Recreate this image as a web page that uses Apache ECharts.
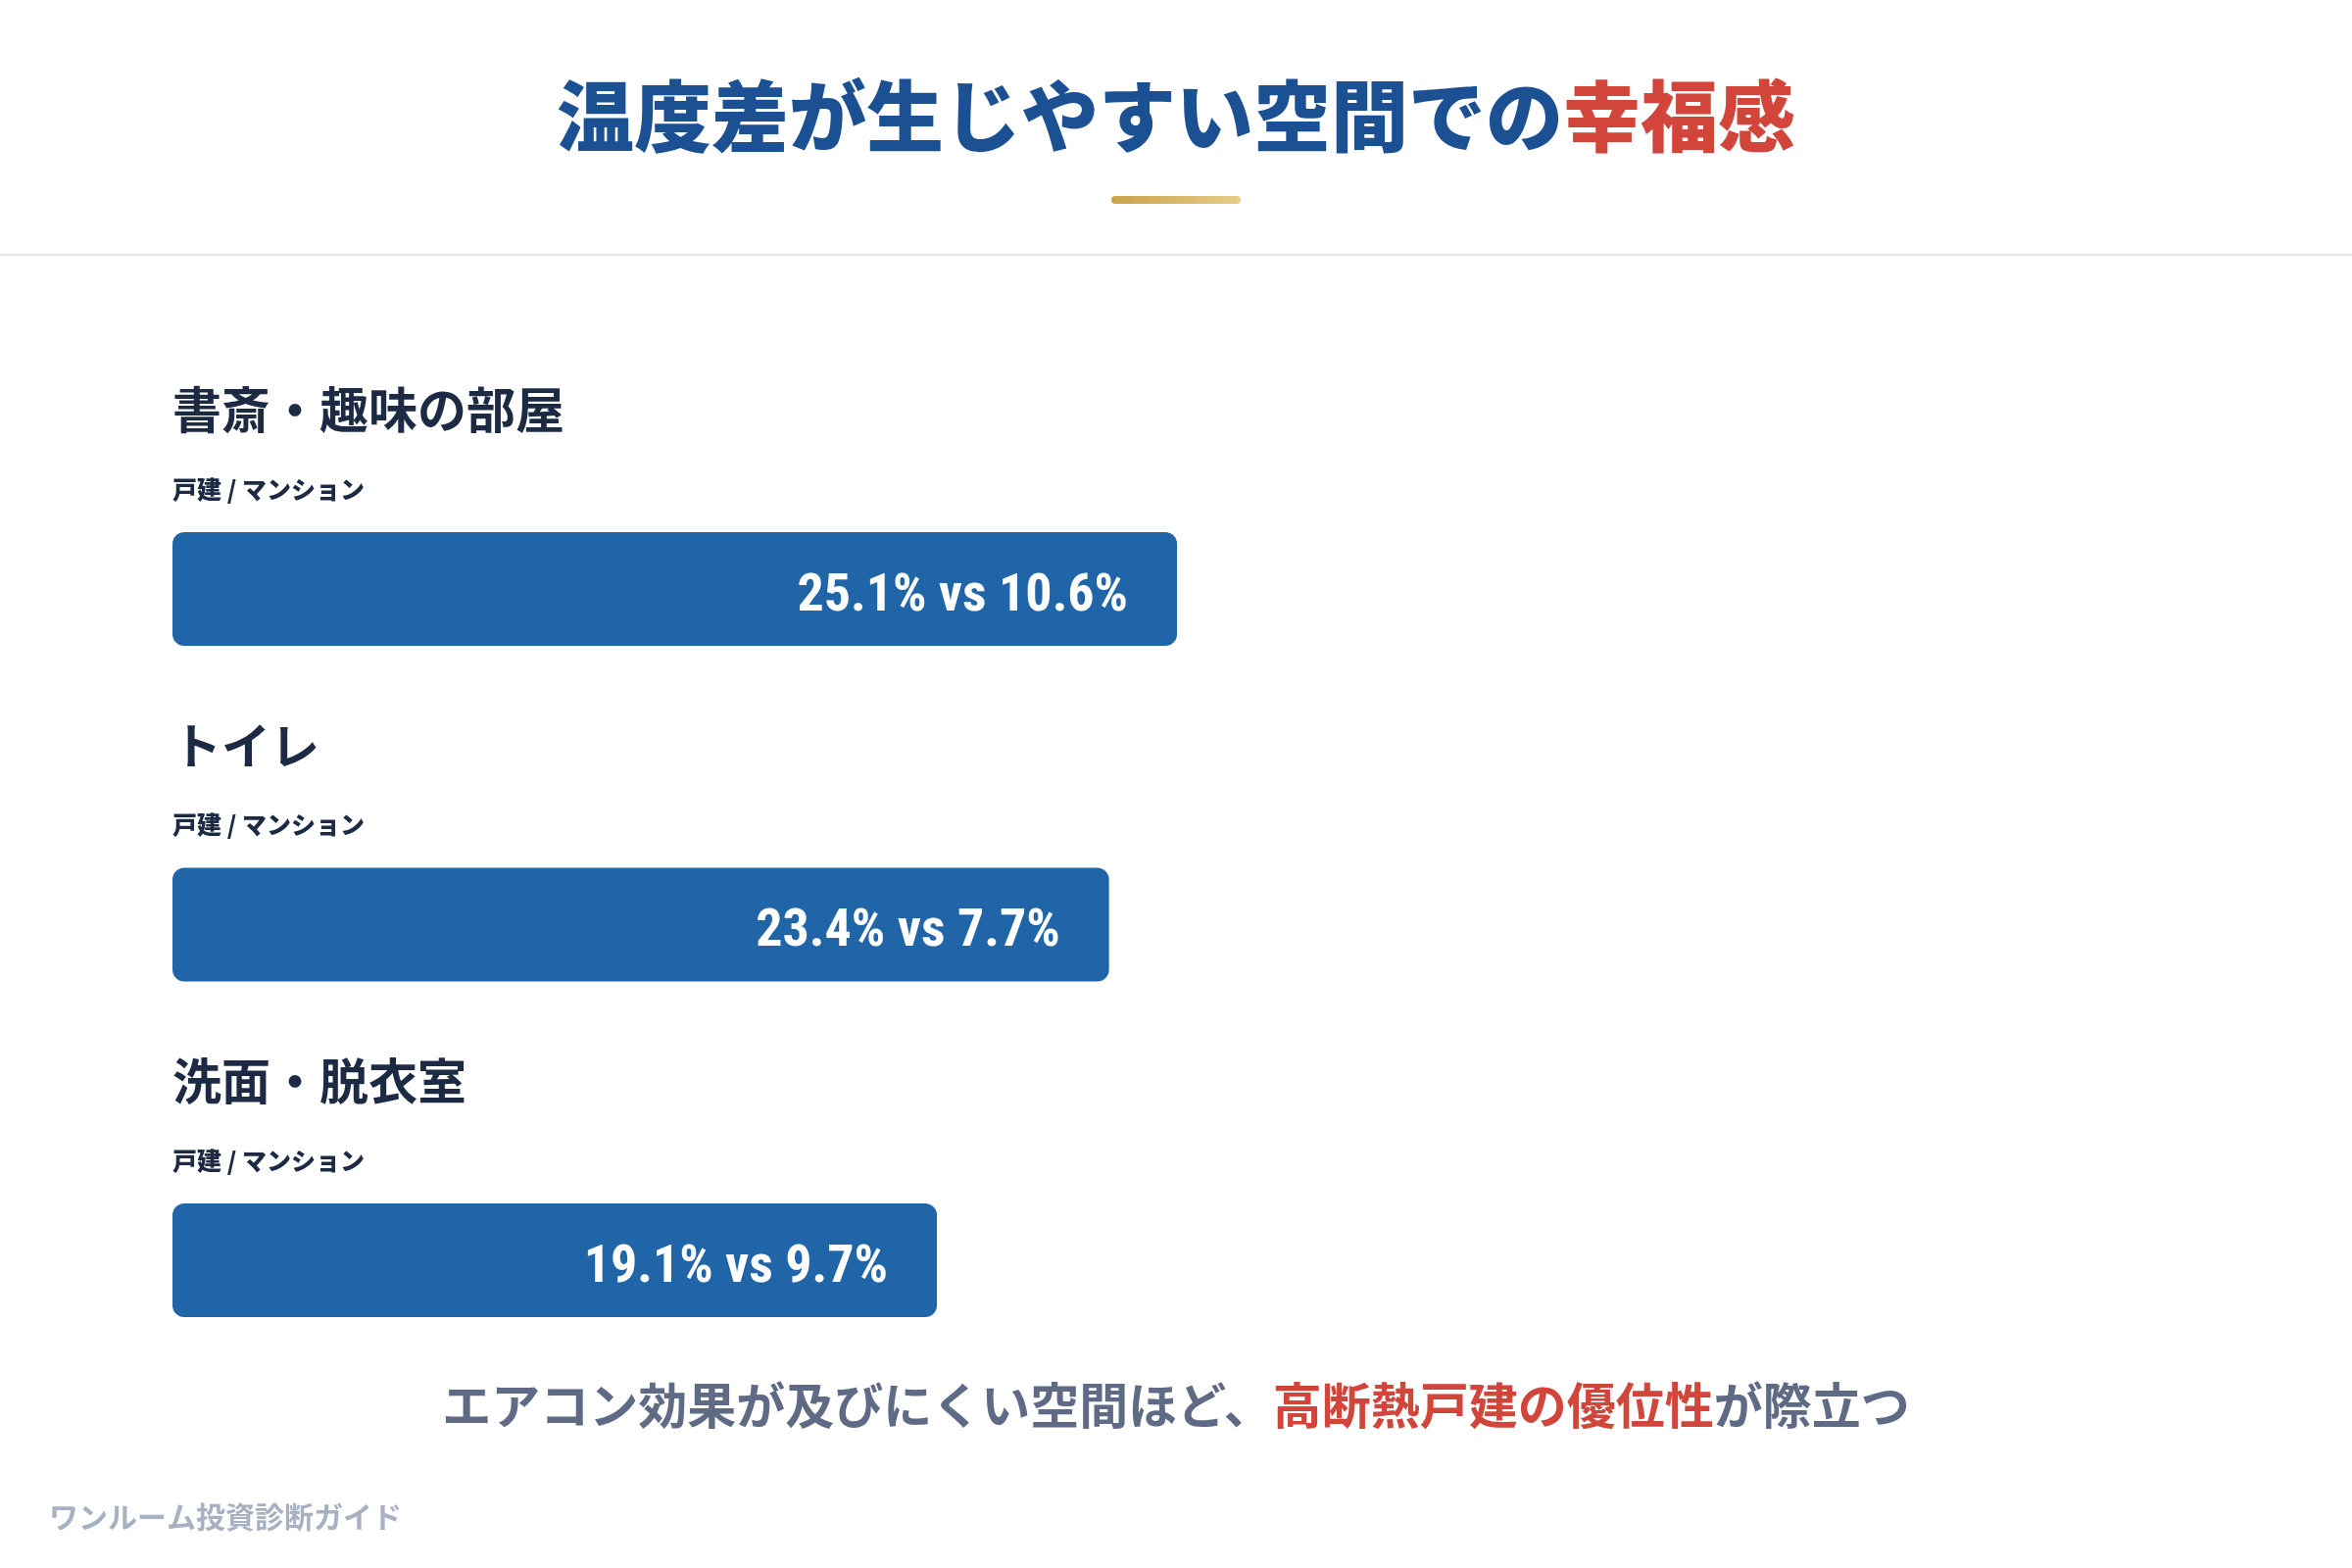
<!DOCTYPE html>
<html lang="ja">
<head>
<meta charset="utf-8">
<title>温度差が生じやすい空間での幸福感</title>
<script src="https://cdn.jsdelivr.net/npm/echarts@6/dist/echarts.min.js"></script>
<style>
    html, body { margin: 0; padding: 0; background: #ffffff; }
    #chart-espacios { width: 2400px; height: 1600px; }
</style>
</head>
<body>
<div id="chart-espacios"></div>
<script>
// datos
var categorias = ['書斎・趣味の部屋', 'トイレ', '洗面・脱衣室'];
var valoresKodate = [25.1, 23.4, 19.1];   // 戸建
var valoresMansion = [10.6, 7.7, 9.7];    // マンション
var subEtiqueta = '戸建 / マンション';

var FUENTE = '"Noto Sans CJK JP", "Noto Sans", sans-serif';
var FUENTE_NUM = '"Roboto Condensed", "DejaVu Sans Condensed", "Liberation Sans Narrow", "Roboto", "DejaVu Sans", sans-serif';

var dom = document.getElementById('chart-espacios');
var myChart = echarts.init(dom, null, { renderer: 'canvas' });

var option = {
    animation: false,
    backgroundColor: '#ffffff',
    title: [
        {
            text: '{b|温度差が生じやすい空間での}{r|幸福感}',
            left: 'center',
            top: 78,
            padding: 0,
            textStyle: {
                rich: {
                    b: { fontFamily: FUENTE, fontSize: 79, fontWeight: 900, color: '#1b5193', lineHeight: 82 },
                    r: { fontFamily: FUENTE, fontSize: 79, fontWeight: 900, color: '#d1453a', lineHeight: 82 }
                }
            }
        },
        {
            text: '{g|エアコン効果が及びにくい空間ほど、}{r|高断熱戸建の優位性}{g|が際立つ}',
            left: 'center',
            top: 1407,
            padding: 0,
            textStyle: {
                rich: {
                    g: { fontFamily: FUENTE, fontSize: 50, fontWeight: 'bold', color: '#5f6b84', lineHeight: 54 },
                    r: { fontFamily: FUENTE, fontSize: 50, fontWeight: 'bold', color: '#d1453a', lineHeight: 54 }
                }
            }
        },
        {
            text: 'ワンルーム投資診断ガイド',
            left: 50,
            top: 1531,
            padding: 0,
            textStyle: { fontFamily: FUENTE, fontSize: 30, fontWeight: 'bold', color: '#a7b1c2', lineHeight: 34 }
        }
    ],
    graphic: [
        {
            type: 'rect',
            shape: { x: 1134, y: 200, width: 132, height: 8, r: 4 },
            style: {
                fill: new echarts.graphic.LinearGradient(0, 0, 1, 0, [
                    { offset: 0, color: '#c9a349' },
                    { offset: 1, color: '#e6cd88' }
                ])
            }
        },
        {
            type: 'rect',
            shape: { x: 0, y: 259, width: 2400, height: 2 },
            style: { fill: '#e3e8ef' }
        }
    ],
    grid: {
        left: 176,
        right: 182,
        top: 429.75,
        bottom: 142.75,
        outerBoundsMode: 'none'
    },
    xAxis: {
        type: 'value',
        min: 0,
        max: 50,
        show: false
    },
    yAxis: {
        type: 'category',
        data: categorias,
        inverse: true,
        axisLine: { show: false },
        axisTick: { show: false },
        splitLine: { show: false },
        axisLabel: {
            inside: true,
            interval: 0,
            margin: 0,
            align: 'left',
            verticalAlign: 'bottom',
            padding: [0, 0, 82, 0],
            formatter: function (valor) {
                return '{t|' + valor + '}\n{s|' + subEtiqueta + '}';
            },
            rich: {
                t: { fontFamily: FUENTE, fontSize: 50, fontWeight: 'bold', color: '#1c2a44', lineHeight: 122 },
                s: { fontFamily: FUENTE, fontSize: 25, fontWeight: 900, color: '#1c2a44', lineHeight: 40 }
            }
        }
    },
    series: [
        {
            type: 'bar',
            data: valoresKodate,
            barWidth: 116,
            silent: true,
            itemStyle: {
                color: '#2165a9',
                borderRadius: 12
            },
            label: {
                show: true,
                position: 'insideRight',
                distance: 50,
                offset: [0, 8],
                fontFamily: FUENTE_NUM,
                fontSize: 54,
                fontWeight: 'bold condensed',
                color: '#ffffff',
                formatter: function (p) {
                    return p.value + '% vs ' + valoresMansion[p.dataIndex] + '%';
                }
            }
        }
    ]
};

myChart.setOption(option);
window.addEventListener('resize', myChart.resize);
</script>
</body>
</html>
